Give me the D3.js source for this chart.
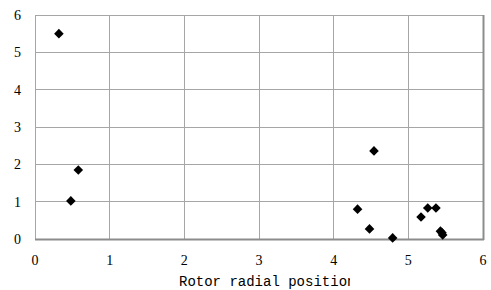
<!DOCTYPE html>
<html><head><meta charset="utf-8">
<script src="https://cdn.jsdelivr.net/npm/d3@7"></script>
<style>body{margin:0;background:#fff}</style>
</head><body>
<svg id="c" width="491" height="290"></svg>
<script>
const xVals = [0.32, 0.58, 0.48, 4.54, 4.32, 4.48, 4.79, 5.17, 5.26, 5.37, 5.43, 5.46, 5.45];
const yVals = [5.50, 1.85, 1.02, 2.36, 0.80, 0.27, 0.03, 0.59, 0.83, 0.83, 0.21, 0.11, 0.17];
const xTicks = [0, 1, 2, 3, 4, 5, 6];
const yTicks = [0, 1, 2, 3, 4, 5, 6];
const xTitle = "Rotor radial position";

const svg = d3.select("#c");
const L = 35, R = 483, T = 15, B = 239;
const x = d3.scaleLinear().domain([0, 6]).range([L, R]);
const y = d3.scaleLinear().domain([0, 6]).range([B, T]);

const g = svg.append("g");
g.selectAll(".vg").data(xTicks).enter().append("line")
  .attr("x1", d => x(d)).attr("x2", d => x(d)).attr("y1", T).attr("y2", B)
  .attr("stroke", "#a6a6a6").attr("stroke-width", 1).attr("shape-rendering", "crispEdges");
g.selectAll(".hg").data(yTicks).enter().append("line")
  .attr("x1", L).attr("x2", R).attr("y1", d => y(d)).attr("y2", d => y(d))
  .attr("stroke", "#a6a6a6").attr("stroke-width", 1).attr("shape-rendering", "crispEdges");
g.append("line").attr("x1", L).attr("x2", R + 1).attr("y1", B + 0.5).attr("y2", B + 0.5)
  .attr("stroke", "#8c8c8c").attr("stroke-width", 2);
g.append("line").attr("x1", R + 0.5).attr("x2", R + 0.5).attr("y1", T).attr("y2", B + 1)
  .attr("stroke", "#8c8c8c").attr("stroke-width", 2);

const font = "'Liberation Serif', 'DejaVu Serif', serif";
svg.selectAll(".yl").data(yTicks).enter().append("text")
  .attr("x", 21).attr("y", d => y(d) + 5).attr("text-anchor", "end")
  .attr("font-family", font).attr("font-size", 14).attr("fill", "#000").text(d => d);
svg.selectAll(".xl").data(xTicks).enter().append("text")
  .attr("x", d => x(d)).attr("y", 265).attr("text-anchor", "middle")
  .attr("font-family", font).attr("font-size", 14).attr("fill", "#000").text(d => d);

svg.append("clipPath").attr("id", "tc").append("rect").attr("x", 0).attr("y", 260).attr("width", 350).attr("height", 30);
svg.append("text").attr("x", 179).attr("y", 286).attr("clip-path", "url(#tc)")
  .attr("font-family", "'Liberation Mono', 'DejaVu Sans Mono', monospace").attr("font-size", 14)
  .attr("fill", "#000").text(xTitle);

const sym = d3.symbol().type(d3.symbolSquare).size(46);
svg.selectAll(".pt").data(xVals.map((v, i) => [v, yVals[i]])).enter().append("path")
  .attr("d", sym).attr("transform", d => `translate(${x(d[0])},${y(d[1])}) rotate(45)`)
  .attr("fill", "#000");
</script>
</body></html>
